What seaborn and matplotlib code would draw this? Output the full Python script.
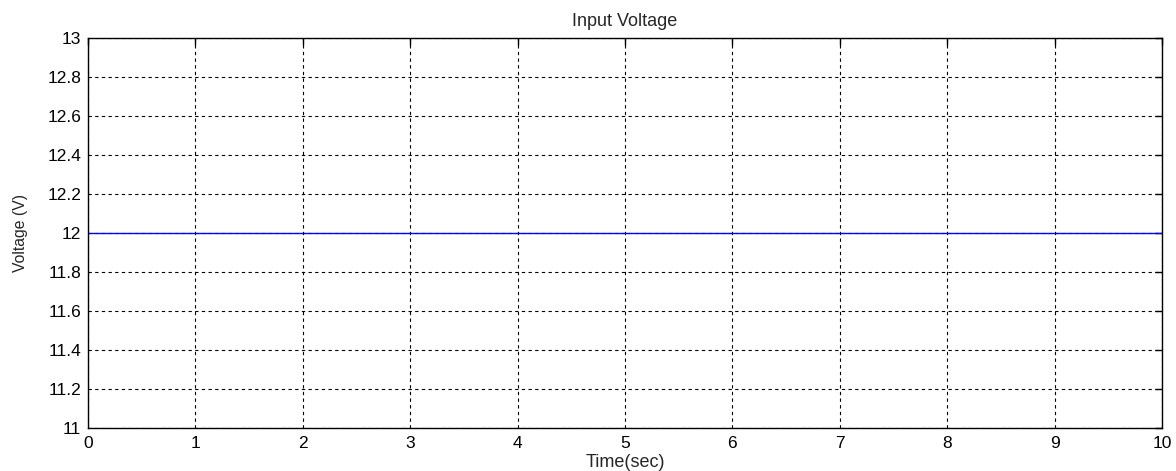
import matplotlib
matplotlib.use("Agg")
import matplotlib.pyplot as plt
import seaborn as sns
import pandas as pd

time_sec = [0, 10]
voltage_v = [12, 12]
x_ticks = [0, 1, 2, 3, 4, 5, 6, 7, 8, 9, 10]
y_ticks = [11, 11.2, 11.4, 11.6, 11.8, 12, 12.2, 12.4, 12.6, 12.8, 13]
y_tick_labels = ["11", "11.2", "11.4", "11.6", "11.8", "12", "12.2", "12.4", "12.6", "12.8", "13"]

sns.set_style("white")
plt.rcParams['font.family'] = ['Liberation Sans', 'DejaVu Sans']

df = pd.DataFrame({"Time": time_sec, "Voltage": voltage_v})

fig = plt.figure(figsize=(11.76, 4.71), dpi=100)
ax = fig.add_axes([88/1176, 1 - 428/471, (1162-88)/1176, (428-38)/471])
sns.lineplot(data=df, x="Time", y="Voltage", ax=ax, color="#0000ff", linewidth=1.0)

ax.set_xlim(0, 10)
ax.set_ylim(11, 13)
ax.set_xticks(x_ticks)
ax.set_yticks(y_ticks)
ax.set_yticklabels(y_tick_labels)
ax.grid(True, color="black", linestyle=(0, (3, 3)), linewidth=0.8)
ax.set_axisbelow(True)
for s in ax.spines.values():
    s.set_color("black")
    s.set_linewidth(1.0)
ax.tick_params(direction="in", length=5, width=1, top=True, right=True,
               labelsize=12.5, colors="black")
ax.tick_params(axis="x", pad=6)
ax.tick_params(axis="y", pad=5)
ax.set_title("Input Voltage", fontsize=13, pad=9)
ax.set_xlabel("Time(sec)", fontsize=13, labelpad=2)
ax.set_ylabel("Voltage (V)", fontsize=11.3, labelpad=14)

fig.savefig("out.png", dpi=100)
